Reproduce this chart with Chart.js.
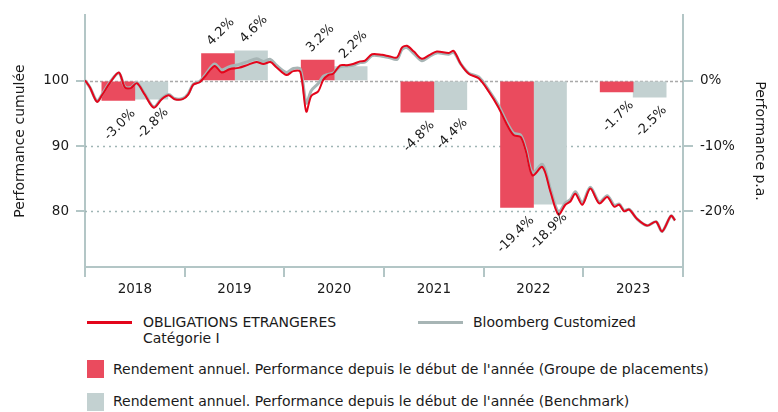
<!DOCTYPE html>
<html>
<head>
<meta charset="utf-8">
<script src="https://cdn.jsdelivr.net/npm/chart.js@4"></script>
<style>
  body { margin: 0; background: #fff; font-family: "DejaVu Sans", sans-serif; color: #1a1a1a; }
  #wrap { position: relative; width: 778px; height: 412px; overflow: hidden; }
  #chart { position: absolute; left: 0; top: 0; }
  .lg { position: absolute; font-size: 14px; line-height: 16px; white-space: nowrap; }
  .ln { position: absolute; height: 3px; }
  .sq { position: absolute; width: 17px; height: 18px; }
</style>
</head>
<body>
<div id="wrap">
  <canvas id="chart" width="778" height="300"></canvas>

  <div class="ln" style="left:87px; top:321px; width:45px; background:#e3051b;"></div>
  <div class="lg" style="left:143px; top:314px;">OBLIGATIONS ETRANGERES<br>Catégorie I</div>
  <div class="ln" style="left:418px; top:321px; width:45px; background:#a7b5b5;"></div>
  <div class="lg" style="left:473px; top:314px;">Bloomberg Customized</div>

  <div class="sq" style="left:87px; top:360px; background:#ea4b5e;"></div>
  <div class="lg" style="left:113px; top:361px;">Rendement annuel. Performance depuis le début de l'année (Groupe de placements)</div>
  <div class="sq" style="left:87px; top:393px; background:#c3d1d1;"></div>
  <div class="lg" style="left:113px; top:393px;">Rendement annuel. Performance depuis le début de l'année (Benchmark)</div>
</div>

<script>
// Annual returns (right axis, %)
const years = ['2018', '2019', '2020', '2021', '2022', '2023'];
const fundAnnual = [-3.0, 4.2, 3.2, -4.8, -19.4, -1.7];
const benchAnnual = [-2.8, 4.6, 2.2, -4.4, -18.9, -2.5];

// Cumulative performance (left axis), time in years since start of 2018
const lineDates = [0.00, 0.05, 0.12, 0.17, 0.25, 0.34, 0.40, 0.46, 0.52, 0.60, 0.69, 0.77, 0.84, 0.90, 0.98,
  1.035, 1.085, 1.15, 1.20, 1.30, 1.37, 1.45, 1.54, 1.64, 1.72, 1.79, 1.86, 1.92,
  2.02, 2.09, 2.16, 2.22, 2.27, 2.34, 2.39, 2.44, 2.49, 2.56, 2.63, 2.69, 2.76, 2.81, 2.88, 2.98,
  3.05, 3.13, 3.18, 3.23, 3.30, 3.38, 3.46, 3.53, 3.65, 3.70, 3.77, 3.85, 3.95,
  4.05, 4.15, 4.23, 4.30, 4.37, 4.42, 4.49, 4.59, 4.67, 4.75, 4.82, 4.87, 4.92, 4.99,
  5.07, 5.16, 5.24, 5.31, 5.36, 5.41, 5.46, 5.54, 5.64, 5.73, 5.79, 5.88, 5.92];
const fundCumul = [100.1, 99.0, 96.8, 97.8, 99.7, 101.3, 99.0, 98.9, 99.65, 97.9, 95.9, 97.2, 97.8, 97.2, 97.2,
  97.9, 99.4, 99.8, 100.6, 102.3, 101.3, 101.8, 102.0, 102.5, 102.9, 102.6, 102.9, 102.1,
  100.9, 101.5, 101.4, 95.3, 97.7, 98.4, 100.15, 100.9, 101.1, 102.4, 102.4, 102.6, 103.0, 103.1, 104.1, 104.0,
  103.8, 103.6, 105.1, 105.4, 104.5, 103.4, 104.0, 104.5, 104.3, 104.6, 102.6, 101.1, 100.4,
  98.4, 95.9, 93.4, 91.7, 91.4, 89.4, 85.5, 86.8, 83.0, 79.5, 81.0, 81.5, 82.7, 81.0,
  83.5, 81.2, 82.2, 80.7, 81.0, 80.0, 80.25, 78.8, 77.8, 78.4, 76.9, 79.3, 78.6];
const benchCumul = [100.1, 99.0, 96.9, 97.9, 99.8, 101.2, 99.1, 99.0, 99.7, 98.0, 96.0, 97.3, 97.9, 97.3, 97.3,
  98.0, 99.5, 99.9, 100.8, 102.6, 101.7, 102.2, 102.5, 103.0, 103.4, 103.0, 103.3, 102.4,
  101.3, 101.9, 101.8, 96.6, 98.5, 99.6, 100.7, 101.0, 101.2, 102.2, 102.3, 102.4, 102.8, 102.9, 103.9, 103.8,
  103.6, 103.3, 104.8, 105.1, 104.2, 103.1, 103.8, 104.3, 104.1, 104.4, 102.6, 101.2, 100.6,
  98.6, 96.2, 93.7, 92.0, 91.7, 89.7, 85.9, 87.2, 83.4, 79.9, 81.3, 81.8, 83.0, 81.3,
  83.7, 81.4, 82.4, 80.9, 81.1, 80.1, 80.3, 78.8, 77.8, 78.4, 76.9, 79.3, 78.6];

const leftTicks = [80, 90, 100];
const rightTicks = [-20, -10, 0];

const axisCol = '#b3c6c6';
const textCol = '#1a1a1a';
const font = { family: 'DejaVu Sans', size: 13.5 };

// reference lines behind the bars
const refLines = {
  id: 'refLines',
  beforeDatasetsDraw(chart) {
    const { ctx, chartArea } = chart;
    const y = chart.scales.y;
    ctx.save();
    leftTicks.forEach((v) => {
      const py = Math.round(y.getPixelForValue(v)) + 0.5;
      ctx.beginPath();
      if (v === 100) {
        ctx.strokeStyle = '#a9a9a9';
        ctx.lineWidth = 1.5;
        ctx.setLineDash([3, 2]);
      } else {
        ctx.strokeStyle = '#9fb5b5';
        ctx.lineWidth = 1.5;
        ctx.setLineDash([2, 4]);
      }
      ctx.moveTo(chartArea.left, py);
      ctx.lineTo(chartArea.right, py);
      ctx.stroke();
    });
    ctx.restore();
  },
};

// rotated value labels on the bars
const barLabels = {
  id: 'barLabels',
  afterDatasetsDraw(chart) {
    const ctx = chart.ctx;
    ctx.save();
    ctx.font = '13px "DejaVu Sans"';
    ctx.fillStyle = textCol;
    ctx.textBaseline = 'middle';
    chart.data.datasets.forEach((ds, i) => {
      if (ds.type !== 'bar') return;
      chart.getDatasetMeta(i).data.forEach((bar, j) => {
        const v = ds.data[j];
        const txt = v.toFixed(1) + '%';
        ctx.save();
        if (v >= 0) {
          ctx.translate(bar.x - 9, bar.y - 10);
          ctx.textAlign = 'left';
        } else {
          ctx.translate(bar.x + 15, bar.y + 11);
          ctx.textAlign = 'right';
        }
        ctx.rotate(-Math.PI / 4);
        ctx.fillText(txt, 0, 0);
        ctx.restore();
      });
    });
    ctx.restore();
  },
};

new Chart(document.getElementById('chart').getContext('2d'), {
  type: 'bar',
  data: {
    labels: years,
    datasets: [
      {
        type: 'line',
        label: 'OBLIGATIONS ETRANGERES Catégorie I',
        data: lineDates.map((t, i) => ({ x: t, y: fundCumul[i] })),
        xAxisID: 'xl',
        yAxisID: 'y',
        borderColor: '#e3051b',
        borderWidth: 2,
        pointRadius: 0,
        tension: 0.3,
        order: 1,
      },
      {
        type: 'line',
        label: 'Bloomberg Customized',
        data: lineDates.map((t, i) => ({ x: t, y: benchCumul[i] })),
        xAxisID: 'xl',
        yAxisID: 'y',
        borderColor: '#a7b5b5',
        borderWidth: 3,
        pointRadius: 0,
        tension: 0.3,
        order: 2,
      },
      {
        type: 'bar',
        label: 'Groupe de placements',
        data: fundAnnual,
        xAxisID: 'x',
        yAxisID: 'y2',
        backgroundColor: '#ea4b5e',
        barThickness: 33,
        order: 3,
      },
      {
        type: 'bar',
        label: 'Benchmark',
        data: benchAnnual,
        xAxisID: 'x',
        yAxisID: 'y2',
        backgroundColor: '#c3d1d1',
        barThickness: 33,
        order: 3,
      },
    ],
  },
  options: {
    responsive: false,
    animation: false,
    layout: { padding: { top: 8, left: 0, right: 0, bottom: 0 } },
    plugins: {
      legend: { display: false },
      tooltip: { enabled: false },
    },
    scales: {
      x: {
        type: 'category',
        position: 'bottom',
        offset: true,
        grid: { offset: true, drawOnChartArea: false, tickLength: 10, color: axisCol, lineWidth: 2 },
        border: { color: axisCol, width: 2 },
        ticks: { color: textCol, font: font, padding: 4, maxRotation: 0 },
        afterFit: (s) => { s.height = 33; },
      },
      xl: {
        type: 'linear',
        display: false,
        offset: false,
        min: 0,
        max: 6,
      },
      y: {
        position: 'left',
        min: 71.45,
        max: 110.1,
        afterBuildTicks: (s) => { s.ticks = leftTicks.map((v) => ({ value: v })); },
        grid: { drawOnChartArea: false, tickLength: 9, color: axisCol, lineWidth: 2 },
        border: { color: axisCol, width: 2 },
        ticks: { color: textCol, font: font, padding: 7 },
        title: {
          display: true,
          text: 'Performance cumulée',
          color: textCol,
          font: { family: 'DejaVu Sans', size: 14 },
          padding: { top: 12, bottom: 0 },
        },
        afterFit: (s) => { s.width = 85; },
      },
      y2: {
        position: 'right',
        min: -28.55,
        max: 10.1,
        afterBuildTicks: (s) => { s.ticks = rightTicks.map((v) => ({ value: v })); },
        grid: { drawOnChartArea: false, tickLength: 10, color: axisCol, lineWidth: 2 },
        border: { color: axisCol, width: 2 },
        ticks: { color: textCol, font: font, padding: 7, callback: (v) => v + '%' },
        title: {
          display: true,
          text: 'Performance p.a.',
          color: textCol,
          font: { family: 'DejaVu Sans', size: 14 },
          padding: { top: 10, bottom: 0 },
        },
        afterFit: (s) => { s.width = 95; },
      },
    },
  },
  plugins: [refLines, barLabels],
});
</script>
</body>
</html>
